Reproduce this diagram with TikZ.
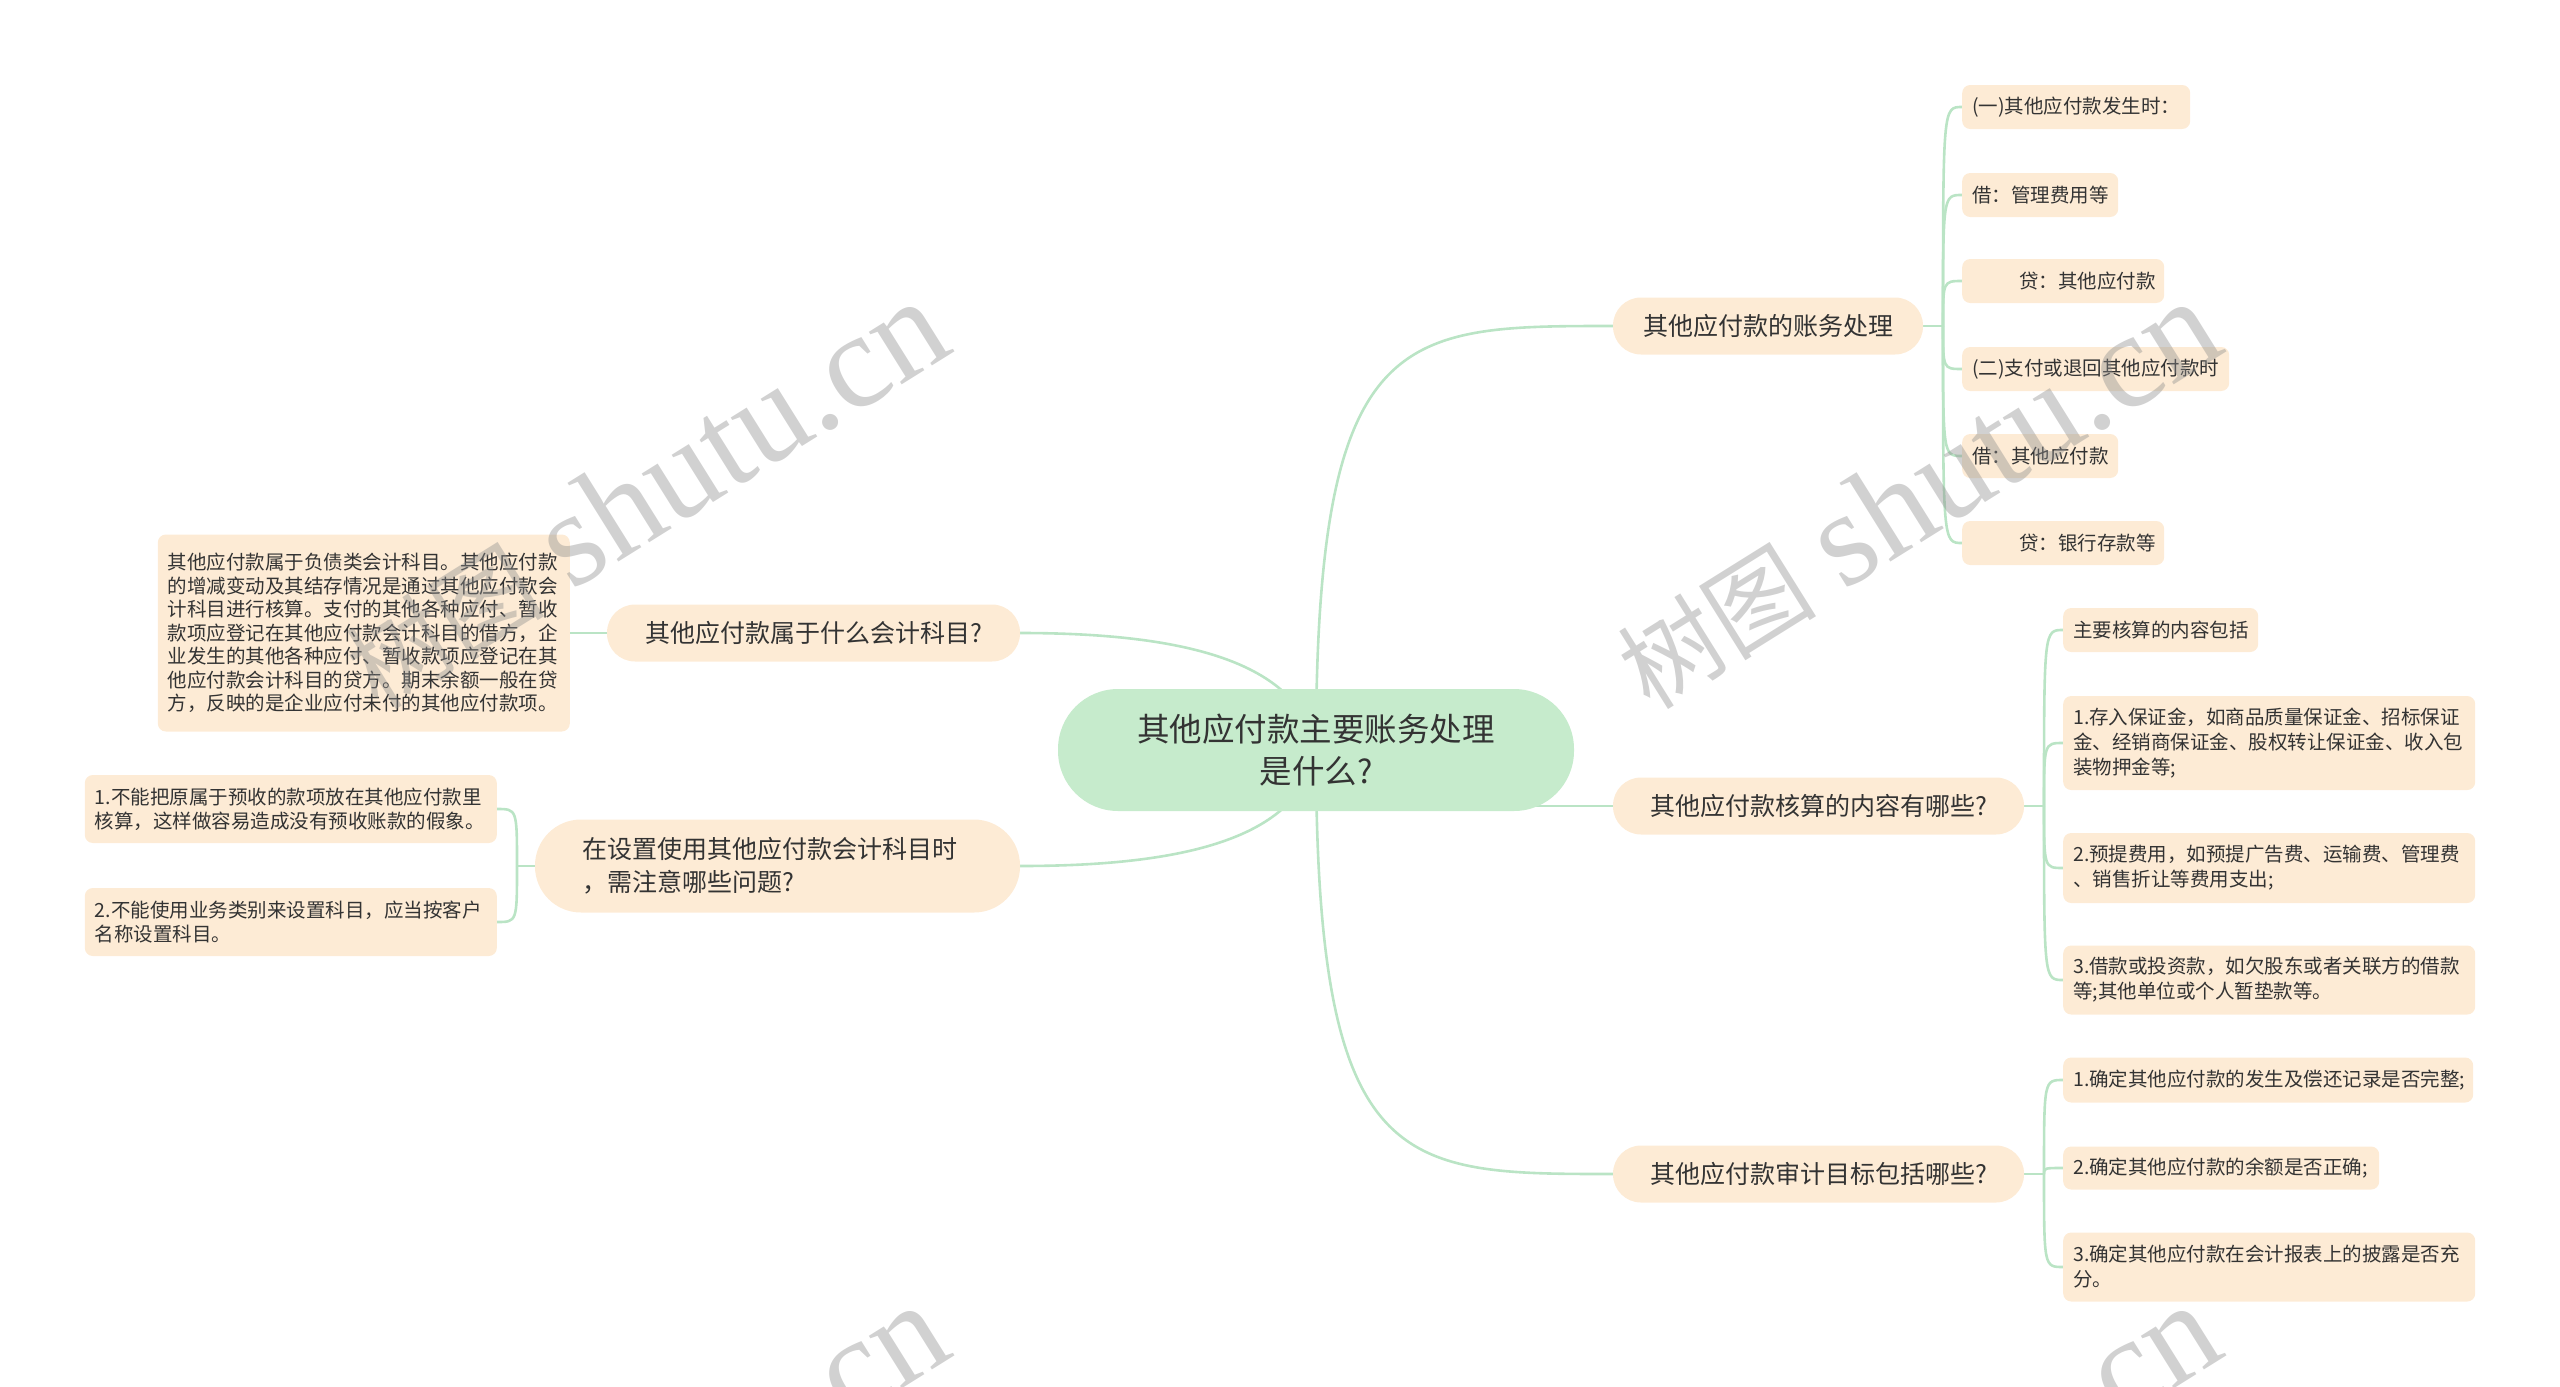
\documentclass[tikz,border=0pt]{standalone}
\usepackage{fontspec}
\setmainfont{Noto Sans CJK SC}
\newfontfamily\wmlatin{Liberation Serif}
\usetikzlibrary{backgrounds}
\definecolor{peach}{RGB}{253,235,213}
\definecolor{mint}{RGB}{198,235,204}
\definecolor{linkc}{RGB}{186,228,197}
\definecolor{txt}{RGB}{51,51,51}
\definecolor{wm}{RGB}{140,140,140}
\newcommand{\wmtext}{{\fontsize{100pt}{100pt}\selectfont 树图}\hspace{28pt}{\wmlatin\fontsize{135pt}{135pt}\selectfont shutu.cn}}
\begin{document}
\begin{tikzpicture}[x=1pt,y=-1pt,
  rootbox/.style={fill=mint, rounded corners=60pt, minimum width=516pt, minimum height=122pt,
    inner sep=0pt, align=center, text=txt, font=\fontsize{32.5pt}{42pt}\selectfont},
  topic/.style={fill=peach, rounded corners=28pt, minimum height=57pt, inner sep=0pt,
    text=txt, font=\fontsize{25pt}{33pt}\selectfont},
  leaf/.style={fill=peach, rounded corners=8pt, inner xsep=10pt, inner ysep=0pt,
    minimum height=44pt, align=left, text=txt, anchor=west,
    font=\fontsize{19.5pt}{25pt}\selectfont},
  link/.style={draw=linkc, line width=2.6pt},
  wmark/.style={rotate=32, text=wm, opacity=0.4, inner sep=0pt, anchor=base west}]
\useasboundingbox (0,0) rectangle (2560,1387);

% root
\node[rootbox] (C) at (1316,750) {其他应付款主要账务处理\\是什么?};

% main topics
\node[topic, minimum width=310pt] (R1) at (1768,326) {其他应付款的账务处理};
\node[topic, minimum width=411pt] (R2) at (1818.5,806) {其他应付款核算的内容有哪些?};
\node[topic, minimum width=411pt] (R3) at (1818.5,1174) {其他应付款审计目标包括哪些?};
\node[topic, minimum width=413pt] (P1) at (813.5,633) {其他应付款属于什么会计科目?};
\node[topic, text width=391pt, inner xsep=47pt, minimum height=93pt, align=left,
  rounded corners=46pt] (P2) at (777.5,866) {在设置使用其他应付款会计科目时\\，需注意哪些问题?};

% leaves of R1
\node[leaf, text width=208pt] (T1) at (1962,107) {(一)其他应付款发生时：};
\node[leaf, text width=136pt] (T2) at (1962,195) {借：管理费用等};
\node[leaf, text width=182pt] (T3) at (1962,281) {\hspace*{2.4em}贷：其他应付款};
\node[leaf, text width=247pt] (T4) at (1962,369) {(二)支付或退回其他应付款时};
\node[leaf, text width=136pt] (T5) at (1962,456) {借：其他应付款};
\node[leaf, text width=182pt] (T6) at (1962,543) {\hspace*{2.4em}贷：银行存款等};

% leaves of R2
\node[leaf, text width=175pt] (M1) at (2063,630) {主要核算的内容包括};
\node[leaf, text width=392pt, minimum height=94pt] (M2) at (2063,743)
  {1.存入保证金，如商品质量保证金、招标保证\\金、经销商保证金、股权转让保证金、收入包\\装物押金等;};
\node[leaf, text width=392pt, minimum height=70pt] (M3) at (2063,868)
  {2.预提费用，如预提广告费、运输费、管理费\\、销售折让等费用支出;};
\node[leaf, text width=392pt, minimum height=69pt] (M4) at (2063,980)
  {3.借款或投资款，如欠股东或者关联方的借款\\等;其他单位或个人暂垫款等。};

% leaves of R3
\node[leaf, text width=390pt, minimum height=45pt] (B1) at (2063,1080) {1.确定其他应付款的发生及偿还记录是否完整;};
\node[leaf, text width=296pt, minimum height=43pt] (B2) at (2063,1168) {2.确定其他应付款的余额是否正确;};
\node[leaf, text width=392pt, minimum height=69pt] (B3) at (2063,1267)
  {3.确定其他应付款在会计报表上的披露是否充\\分。};

% leaves on the left
\node[leaf, anchor=east, text width=392pt, minimum height=197pt,
  font=\fontsize{19.5pt}{23.5pt}\selectfont] (L1) at (570,633)
  {其他应付款属于负债类会计科目。其他应付款\\的增减变动及其结存情况是通过其他应付款会\\计科目进行核算。支付的其他各种应付、暂收\\款项应登记在其他应付款会计科目的借方，企\\业发生的其他各种应付、暂收款项应登记在其\\他应付款会计科目的贷方。期末余额一般在贷\\方，反映的是企业应付未付的其他应付款项。};
\node[leaf, anchor=east, text width=392pt, minimum height=68pt,
  font=\fontsize{19.5pt}{24pt}\selectfont] (L2) at (497,809)
  {1.不能把原属于预收的款项放在其他应付款里\\核算，这样做容易造成没有预收账款的假象。};
\node[leaf, anchor=east, text width=392pt, minimum height=68pt,
  font=\fontsize{19.5pt}{24pt}\selectfont] (L3) at (497,922)
  {2.不能使用业务类别来设置科目，应当按客户\\名称设置科目。};

% junction points
\coordinate (J1) at (1943,326);
\coordinate (J2) at (2044,806);
\coordinate (J3) at (2044,1174);
\coordinate (J4) at (517,866);

\begin{scope}[on background layer]
  % root to topics
  \draw[link] (C.center) .. controls (1316,326) and (1400,326) .. (R1.west);
  \draw[link] (C.center) .. controls (1316,1174) and (1400,1174) .. (R3.west);
  \draw[link] (C.center |- R2.west) -- (R2.west);
  \draw[link] (P1.east) .. controls (1180,633) and (1300,660) .. (C.center);
  \draw[link] (P2.east) .. controls (1180,866) and (1300,840) .. (C.center);
  % R1 branches
  \draw[link] (R1.east) -- (J1);
  \foreach \n in {T1,T2,T3,T4,T5,T6}{
    \draw[link] (J1) .. controls (J1 |- \n.west) and (J1 |- \n.west) .. (\n.west);
  }
  % R2 branches
  \draw[link] (R2.east) -- (J2);
  \foreach \n in {M1,M2,M3,M4}{
    \draw[link] (J2) .. controls (J2 |- \n.west) and (J2 |- \n.west) .. (\n.west);
  }
  % R3 branches
  \draw[link] (R3.east) -- (J3);
  \foreach \n in {B1,B2,B3}{
    \draw[link] (J3) .. controls (J3 |- \n.west) and (J3 |- \n.west) .. (\n.west);
  }
  % left branches
  \draw[link] (L1.east) -- (P1.west);
  \draw[link] (P2.west) -- (J4);
  \foreach \n in {L2,L3}{
    \draw[link] (J4) .. controls (J4 |- \n.east) and (J4 |- \n.east) .. (\n.east);
  }
\end{scope}

% watermarks
\begin{scope}
  \clip (0,0) rectangle (2560,1387);
  \node[wmark] (W1) at (378,712) {\wmtext};
  \node[wmark] (W2) at (1650,712) {\wmtext};
  \node[wmark] (W3) at (378,1716) {\wmtext};
  \node[wmark] (W4) at (1650,1716) {\wmtext};
\end{scope}
\end{tikzpicture}
\end{document}
